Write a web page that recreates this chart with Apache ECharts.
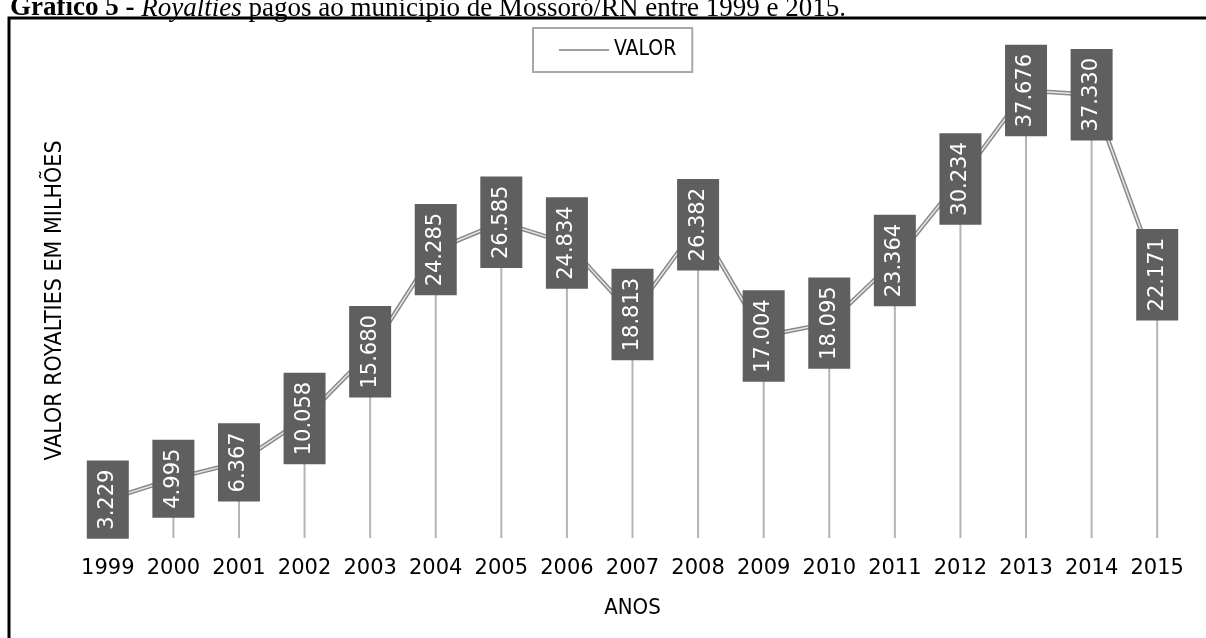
<!DOCTYPE html>
<html>
<head>
<meta charset="utf-8">
<script src="https://cdn.jsdelivr.net/npm/echarts@6/dist/echarts.min.js"></script>
<style>
html,body{margin:0;padding:0;background:#fff;}
#chart{width:1206px;height:638px;}
</style>
</head>
<body>
<div id="chart"></div>
<script>
const years = ['1999','2000','2001','2002','2003','2004','2005','2006','2007','2008','2009','2010','2011','2012','2013','2014','2015'];
const valores = [3.229, 4.995, 6.367, 10.058, 15.680, 24.285, 26.585, 24.834, 18.813, 26.382, 17.004, 18.095, 23.364, 30.234, 37.676, 37.330, 22.171];
const seriesName = 'VALOR';
const yTitle = 'VALOR ROYALTIES EM MILHÕES';
const xTitle = 'ANOS';

const chart = echarts.init(document.getElementById('chart'));
const cond = "'DejaVu Sans Condensed', 'Liberation Sans', sans-serif";

chart.setOption({
  animation: false,
  backgroundColor: '#ffffff',
  graphic: [
    {
      type: 'rect', z: -10, silent: true,
      shape: { x: 9, y: 18, width: 1400, height: 800 },
      style: { fill: 'none', stroke: '#000', lineWidth: 3 }
    },
    {
      type: 'text', left: 10, top: -5, z: 10, silent: true,
      style: {
        text: '{b|Gráfico 5 -} {i|Royalties} pagos ao município de Mossoró/RN entre 1999 e 2015.',
        fontFamily: "'Liberation Serif', 'Times New Roman', serif",
        fontSize: 27, fill: '#000',
        rich: {
          b: { fontFamily: "'Liberation Serif', serif", fontSize: 27, fontWeight: 'bold', fill: '#000' },
          i: { fontFamily: "'Liberation Serif', serif", fontSize: 27, fontStyle: 'italic', fill: '#000' }
        }
      }
    }
  ],
  legend: {
    data: [seriesName],
    left: 533, top: 28,
    padding: [11, 16, 11, 26],
    borderColor: '#a8a8a8', borderWidth: 2,
    itemWidth: 50, itemHeight: 2,
    icon: 'rect',
    itemStyle: { color: '#a0a0a0' },
    textStyle: { fontFamily: cond, fontSize: 21, color: '#000', lineHeight: 22 }
  },
  grid: { left: 75, right: 16, top: 63, bottom: 100 },
  xAxis: {
    type: 'category',
    data: years,
    boundaryGap: true,
    axisLine: { show: false },
    axisTick: { show: false },
    axisLabel: { interval: 0, fontFamily: "'DejaVu Sans', sans-serif", fontSize: 21, color: '#000', margin: 20 },
    name: xTitle,
    nameLocation: 'middle',
    nameGap: 59,
    nameTextStyle: { fontFamily: cond, fontSize: 22, color: '#000' }
  },
  yAxis: {
    type: 'value',
    min: 0, max: 40,
    axisLine: { show: false },
    axisTick: { show: false },
    axisLabel: { show: false },
    splitLine: { show: false },
    name: yTitle,
    nameLocation: 'middle',
    nameRotate: 90,
    nameGap: 8,
    nameTextStyle: { fontFamily: cond, fontSize: 23, color: '#000' }
  },
  series: [
    {
      name: 'drop',
      type: 'bar',
      data: valores,
      barWidth: 2,
      itemStyle: { color: '#b4b4b4' },
      z: 1,
      silent: true
    },
    {
      name: seriesName,
      type: 'line',
      data: valores,
      symbol: 'none',
      lineStyle: { color: '#8a8a8a', width: 4.5 },
      itemStyle: { color: '#a0a0a0' },
      z: 2,
      silent: true
    },
    {
      name: 'inner',
      type: 'line',
      data: valores,
      symbol: 'circle',
      symbolSize: 1,
      showSymbol: true,
      lineStyle: { color: '#e6e6e6', width: 1.5 },
      itemStyle: { color: 'transparent', borderWidth: 0 },
      z: 3,
      silent: true,
      label: {
        show: true,
        position: 'inside',
        rotate: 90,
        formatter: p => p.value.toFixed(3),
        fontFamily: "'DejaVu Sans', sans-serif",
        fontSize: 21,
        lineHeight: 22,
        color: '#ffffff',
        backgroundColor: '#5f5f5f',
        padding: [10, 9]
      }
    }
  ]
});
</script>
</body>
</html>
